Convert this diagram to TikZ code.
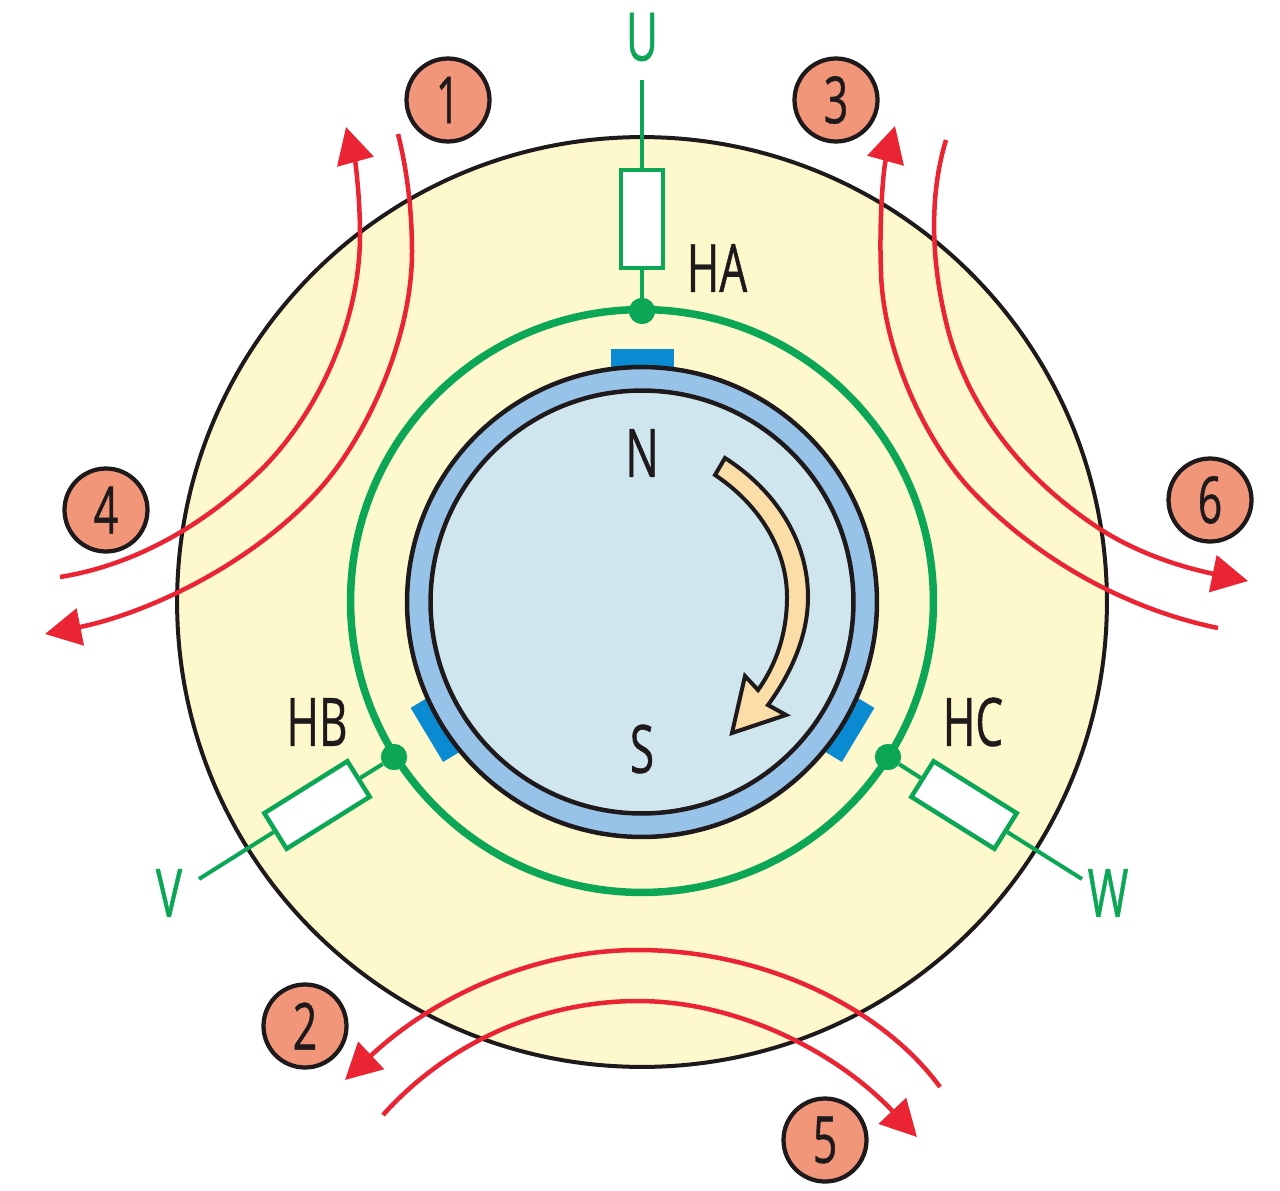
\documentclass[tikz,border=0pt]{standalone}
\usepackage{fontspec}
\setmainfont[FakeStretch=0.66,FakeBold=0.6]{Open Sans}
\usetikzlibrary{arrows.meta}
\definecolor{bgy}{HTML}{FDF9CC}
\definecolor{grn}{HTML}{0CA657}
\definecolor{redc}{HTML}{EA2433}
\definecolor{ringb}{HTML}{98C3E8}
\definecolor{rotor}{HTML}{CFE6EF}
\definecolor{blk}{HTML}{0A8AD0}
\definecolor{sal}{HTML}{F2967A}
\definecolor{arr}{HTML}{FBDDA8}
\definecolor{ink}{HTML}{1E1A1C}
\tikzset{
 x=0.02cm,y=-0.02cm,
 fluxline/.style={draw=redc,line width=0.09cm},
 fluxarrow/.style={fluxline,-{Triangle[length=0.72cm,width=0.74cm]}},
 badge/.style={circle,draw=ink,line width=0.085cm,fill=sal,minimum size=1.66cm,inner sep=0pt,font=\fontsize{37}{37}\selectfont,text=ink},
 lbl/.style={font=\fontsize{38}{38}\selectfont,text=ink,inner sep=0pt},
 glbl/.style={font=\fontsize{38}{38}\selectfont,text=grn,inner sep=0pt},
 res/.style={draw=grn,line width=0.09cm,fill=white,minimum width=1.96cm,minimum height=0.84cm,inner sep=0pt,shape=rectangle},
 wire/.style={draw=grn,line width=0.08cm},
 dot/.style={circle,fill=grn,minimum size=0.52cm,inner sep=0pt},
 sensor/.style={fill=blk,minimum width=1.26cm,minimum height=0.38cm,inner sep=0pt},
}
\begin{document}
\begin{tikzpicture}
\useasboundingbox (0,0) rectangle (1280,1190);
\fill[white] (0,0) rectangle (1280,1190);
\node[circle,draw=ink,line width=0.08cm,fill=bgy,minimum size=18.6cm,inner sep=0pt] (stator) at (642,602) {};
% wires
\coordinate (U) at (642,80);
\coordinate (V) at (199,879);
\coordinate (W) at (1082,879);
\node[dot] (da) at (642,311) {};
\node[dot] (db) at (394,757) {};
\node[dot] (dc) at (888,757) {};
\node[res,rotate=90] (ha) at (642,219) {};
\node[res,rotate=32] (hb) at (317,805) {};
\node[res,rotate=-32] (hc) at (964,805) {};
\draw[wire] (U) -- (ha.east);
\draw[wire] (ha.west) -- (da);
\draw[wire] (V) -- (hb.west);
\draw[wire] (hb.east) -- (db);
\draw[wire] (W) -- (hc.east);
\draw[wire] (hc.west) -- (dc);
\node[circle,draw=grn,line width=0.15cm,minimum size=11.66cm,inner sep=0pt] (ring) at (642,601) {};
\node[dot] at (da) {};
\node[dot] at (db) {};
\node[dot] at (dc) {};
% sensors
\node[sensor] (sa) at (642,358) {};
\node[sensor,rotate=-59] (sb) at (435,730) {};
\node[sensor,rotate=59] (sc) at (850,730) {};
% rotor
\node[circle,draw=ink,line width=0.09cm,fill=ringb,minimum size=9.4cm,inner sep=0pt] (outer) at (642,602) {};
\node[circle,draw=ink,line width=0.09cm,fill=rotor,minimum size=8.46cm,inner sep=0pt] (inner) at (642,602) {};
% rotation arrow
\draw[draw=ink,line width=0.08cm,line join=miter,fill=arr]
 (725,458) .. controls (775,490) and (808,540) .. (808,597)
 .. controls (808,635) and (792,672) .. (768,705)
 -- (786,715) -- (732,733) -- (745,676) -- (758,690)
 .. controls (778,662) and (787,630) .. (787,597)
 .. controls (787,550) and (760,505) .. (715,475) -- cycle;
% texts
\node[glbl] (tu) at (642,37) {U};
\node[glbl] (tv) at (169,893) {V};
\node[glbl] (tw) at (1108,893) {W};
\node[lbl] (tha) at (717,268) {HA};
\node[lbl] (thb) at (317,722) {HB};
\node[lbl] (thc) at (973,722) {HC};
\node[lbl] (tn) at (642,453) {N};
\node[lbl] (ts) at (642,749) {S};
% flux
\draw[fluxarrow] (398,134) .. controls (407,170) and (412,210) .. (412,252)
 .. controls (412,340) and (365,440) .. (317,492)
 .. controls (245,570) and (140,615) .. (45,634);
\draw[fluxarrow] (60,577) .. controls (135,565) and (205,525) .. (263,468)
 .. controls (320,410) and (360,320) .. (360,235)
 .. controls (360,195) and (355,160) .. (346,127);
\draw[fluxarrow] (1218,628) .. controls (1130,610) and (1040,562) .. (973,492)
 .. controls (925,442) and (883,350) .. (881,272)
 .. controls (879,225) and (883,170) .. (895,126);
\draw[fluxarrow] (946,140) .. controls (929,195) and (931,262) .. (947,326)
 .. controls (968,410) and (1025,480) .. (1100,529)
 .. controls (1145,558) and (1195,570) .. (1248,581);
\draw[fluxarrow] (940,1087) .. controls (880,1005) and (760,950) .. (638,950)
 .. controls (530,950) and (430,1000) .. (345,1080);
\draw[fluxarrow] (383,1115) .. controls (450,1040) and (545,1001) .. (638,1001)
 .. controls (735,1001) and (835,1050) .. (917,1137);
% badges
\node[badge] (b1) at (448,100) {1};
\node[badge] (b2) at (305,1026) {2};
\node[badge] (b3) at (836,100) {3};
\node[badge] (b4) at (106,510) {4};
\node[badge] (b5) at (825,1140) {5};
\node[badge] (b6) at (1210,500) {6};
\end{tikzpicture}
\end{document}
